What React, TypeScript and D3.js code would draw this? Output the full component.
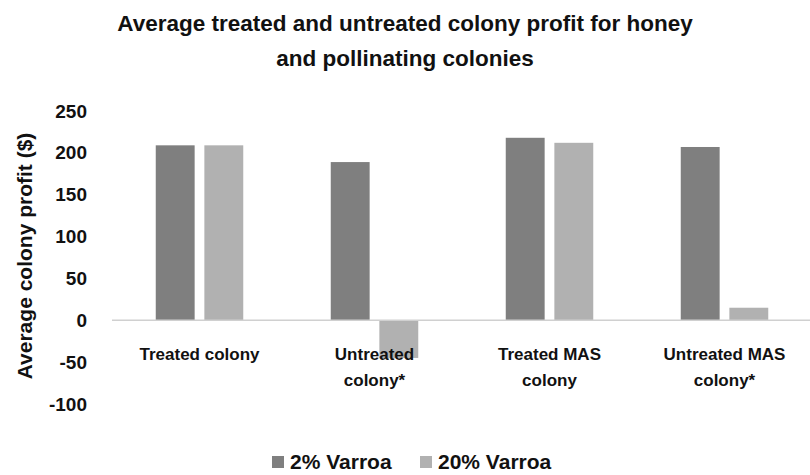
import { useEffect, useRef } from "react";
import * as d3 from "d3";

const titleLines = [
	"Average treated and untreated colony profit for honey",
	"and pollinating colonies",
];
const categories = ["Treated colony", "Untreated colony*", "Treated MAS colony", "Untreated MAS colony*"];
const categoryLines = [["Treated colony"], ["Untreated", "colony*"], ["Treated MAS", "colony"], ["Untreated MAS", "colony*"]];
const seriesNames = ["2% Varroa", "20% Varroa"];
const varroa2 = [209, 189, 218, 207];
const varroa20 = [209, -45, 212, 15];
const yTicks = [-100, -50, 0, 50, 100, 150, 200, 250];
const yTitle = "Average colony profit ($)";

const colors = ["#7f7f7f", "#b1b1b1"];
const FONT = "'Liberation Sans', Arial, sans-serif";

export default function App() {
	const svgRef = useRef<SVGSVGElement>(null);

	useEffect(() => {
		if (!svgRef.current) return;
		document.body.style.margin = "0";
		const svg = d3.select(svgRef.current);
		svg.selectAll("*").remove();

		const width = 810;
		const plotLeft = 112;
		const plotRight = 812;

		const x0 = d3.scaleBand<string>().domain(categories).range([plotLeft, plotRight]);
		const x1 = d3
			.scaleBand<string>()
			.domain(seriesNames)
			.range([x0.bandwidth() * 0.25, x0.bandwidth() * 0.75])
			.paddingInner(0.2);

		const y = d3.scaleLinear().domain([-100, 250]).range([404, 111]);

		svg.append("rect").attr("width", width).attr("height", 475).attr("fill", "#fff");

		// title
		svg.append("g")
			.selectAll("text")
			.data(titleLines)
			.join("text")
			.attr("x", width / 2)
			.attr("y", (_, i) => 31 + i * 35)
			.attr("text-anchor", "middle")
			.attr("font-family", FONT)
			.attr("font-weight", "bold")
			.attr("font-size", "22.5px")
			.attr("fill", "#111")
			.text((d) => d);

		// y axis labels (plain hyphen like the original)
		const yAxis = d3
			.axisLeft(y)
			.tickValues(yTicks)
			.tickSize(0)
			.tickPadding(0)
			.tickFormat((d) => String(d));
		svg.append("g")
			.attr("transform", `translate(${87},0)`)
			.call(yAxis)
			.call((g) => g.select(".domain").remove())
			.call((g) =>
				g
					.selectAll(".tick text")
					.attr("fill", "#111")
					.attr("font-size", "19px")
					.attr("font-weight", "bold")
					.attr("font-family", FONT)
			);

		svg.append("text")
			.attr("transform", `translate(32,${256}) rotate(-90)`)
			.attr("text-anchor", "middle")
			.attr("font-family", FONT)
			.attr("font-weight", "bold")
			.attr("font-size", "21px")
			.attr("fill", "#111")
			.text(yTitle);

		// bars
		const seriesValues = [varroa2, varroa20];
		const groups = svg
			.append("g")
			.selectAll("g")
			.data(categories)
			.join("g")
			.attr("transform", (d) => `translate(${x0(d)},0)`);

		groups
			.selectAll("rect")
			.data((_, ci) => seriesNames.map((s, si) => ({ s, si, v: seriesValues[si][ci] })))
			.join("rect")
			.attr("x", (d) => x1(d.s) ?? 0)
			.attr("width", x1.bandwidth())
			.attr("y", (d) => y(Math.max(0, d.v)))
			.attr("height", (d) => Math.abs(y(d.v) - y(0)))
			.attr("fill", (d) => colors[d.si]);

		// zero line
		svg.append("line")
			.attr("x1", plotLeft)
			.attr("x2", plotRight)
			.attr("y1", y(0))
			.attr("y2", y(0))
			.attr("stroke", "#d0d0d0")
			.attr("stroke-width", 1.5);

		// category labels
		const labelG = svg
			.append("g")
			.selectAll("text")
			.data(categories)
			.join("text")
			.attr("text-anchor", "middle")
			.attr("font-family", FONT)
			.attr("font-weight", "bold")
			.attr("font-size", "17px")
			.attr("fill", "#111");
		labelG
			.selectAll("tspan")
			.data((_, i) => categoryLines[i])
			.join("tspan")
			.attr("x", function () {
				const cat = d3.select((this as SVGTSpanElement).parentNode as SVGTextElement).datum() as string;
				return (x0(cat) ?? 0) + x0.bandwidth() / 2;
			})
			.attr("y", (_, i) => 360 + i * 26)
			.text((d) => d);

		// legend
		const legendX = [272, 420];
		const legend = svg
			.append("g")
			.selectAll("g")
			.data(seriesNames)
			.join("g")
			.attr("transform", (_, i) => `translate(${legendX[i]},0)`);
		legend
			.append("rect")
			.attr("y", 456)
			.attr("width", 12)
			.attr("height", 12)
			.attr("fill", (_, i) => colors[i]);
		legend
			.append("text")
			.attr("x", 18)
			.attr("y", 469)
			.attr("font-family", FONT)
			.attr("font-weight", "bold")
			.attr("font-size", "21px")
			.attr("fill", "#111")
			.text((d) => d);
	}, []);

	return (
		<div style={{ position: "absolute", left: 0, top: 0 }}>
			<svg ref={svgRef} width={810} height={475} style={{ display: "block" }} />
		</div>
	);
}
